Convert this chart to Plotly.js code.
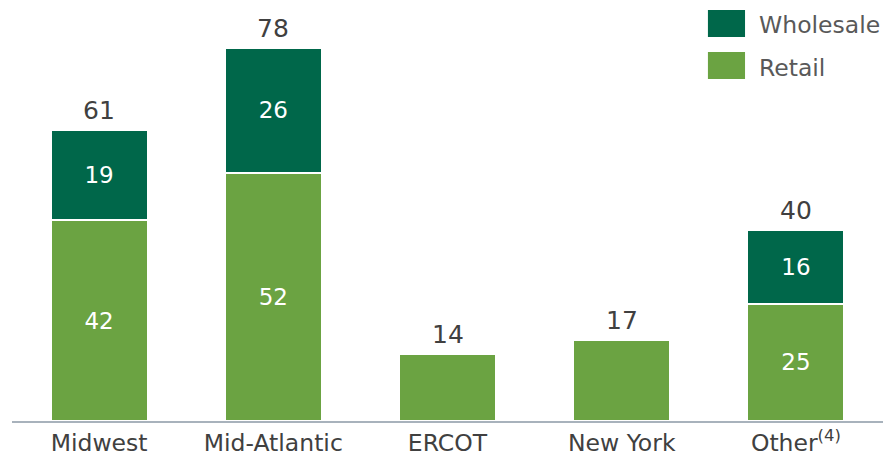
<!DOCTYPE html>
<html>
<head>
<meta charset="utf-8">
<script src="https://cdn.plot.ly/plotly-3.0.1.min.js"></script>
<style>
  html, body { margin: 0; padding: 0; background: white; }
  #chart { width: 883px; height: 457px; }
</style>
</head>
<body>
<div id="chart"></div>
<script>
// Regions and values
const regions = ['Midwest', 'Mid-Atlantic', 'ERCOT', 'New York', 'Other'];
const regionLabels = ['Midwest', 'Mid-Atlantic', 'ERCOT', 'New York', 'Other<sup>(4)</sup>'];
const retail = [42, 52, 14, 17, 24.5];
const wholesale = [19, 26, null, null, 15.5];
const retailText = ['42', '52', null, null, '25'];
const wholesaleText = ['19', '26', null, null, '16'];
const totals = [61, 78, 14, 17, 40];

const GREEN_DARK = '#00674A';
const GREEN_LIGHT = '#6BA342';
const FONT = 'DejaVu Sans, Verdana, sans-serif';

const barCommon = {
    type: 'bar',
    x: regions,
    width: 0.557,
    textposition: 'inside',
    insidetextanchor: 'middle',
    textfont: { family: FONT, size: 23, color: 'white' },
    hoverinfo: 'skip',
    showlegend: false,
};

const traces = [
    { ...barCommon, name: 'Retail', y: retail, text: retailText,
      marker: { color: GREEN_LIGHT, line: { color: 'white', width: 2 } } },
    { ...barCommon, name: 'Wholesale', y: wholesale, text: wholesaleText,
      marker: { color: GREEN_DARK, line: { color: 'white', width: 2 } } },
];

// Totals above each stack
const annotations = regions.map((r, i) => ({
    x: r, y: totals[i], xref: 'x', yref: 'y',
    text: String(totals[i]), showarrow: false,
    yanchor: 'bottom', yshift: 3,
    font: { family: FONT, size: 25, color: '#404040' },
}));

// Hand-drawn legend (big swatches like the original)
const legendItems = [
    { name: 'Wholesale', color: GREEN_DARK, y0: 0.912, y1: 0.976, ty: 0.94 },
    { name: 'Retail', color: GREEN_LIGHT, y0: 0.8124, y1: 0.8765, ty: 0.838 },
];
const shapes = legendItems.map(it => ({
    type: 'rect', xref: 'paper', yref: 'paper',
    x0: 0.799, x1: 0.8416, y0: it.y0, y1: it.y1,
    fillcolor: it.color, line: { width: 0 },
}));
legendItems.forEach(it => annotations.push({
    xref: 'paper', yref: 'paper', x: 0.8553, y: it.ty,
    xanchor: 'left', yanchor: 'middle', showarrow: false,
    text: it.name, font: { family: FONT, size: 23.5, color: '#595959' },
}));

const layout = {
    width: 883, height: 457,
    paper_bgcolor: 'white', plot_bgcolor: 'white',
    margin: { l: 12, r: 0, t: 0, b: 36 },
    barmode: 'stack',
    showlegend: false,
    hovermode: false,
    xaxis: {
        tickvals: regions, ticktext: regionLabels,
        range: [-0.5, 4.5],
        showgrid: false, zeroline: false,
        showline: true, linecolor: '#A8B2BC', linewidth: 2,
        ticks: '',
        tickfont: { family: FONT, size: 23.5, color: '#404040' },
    },
    yaxis: {
        range: [0, 88.1],
        visible: false, showgrid: false, zeroline: false, fixedrange: true,
    },
    shapes,
    annotations,
};

Plotly.newPlot('chart', traces, layout, { displayModeBar: false, staticPlot: true });
</script>
</body>
</html>
